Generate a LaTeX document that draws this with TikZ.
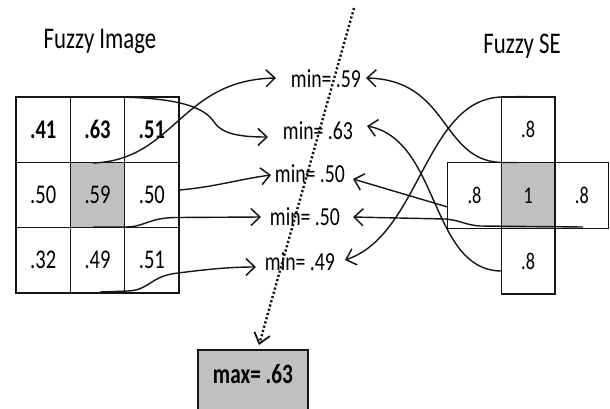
\documentclass[tikz,border=0pt]{standalone}
\usepackage{fontspec}
\setmainfont{Carlito}
\usetikzlibrary{arrows.meta}
\newcommand{\sq}[1]{\scalebox{0.76}[1]{#1}}
\definecolor{cellgray}{HTML}{C0C0C0}
\definecolor{ink}{HTML}{151515}
\begin{document}
\begin{tikzpicture}[x=1pt,y=-1pt,
  imgcell/.style={draw=ink, line width=1.5pt, fill=white, minimum width=54.33pt, minimum height=65.33pt, inner sep=0pt, font=\fontsize{27}{30}\selectfont},
  secell/.style={draw=ink, line width=1.5pt, fill=white, minimum width=53.7pt, minimum height=65.67pt, inner sep=0pt, font=\fontsize{24}{28}\selectfont},
  mid/.style={fill=cellgray},
  title/.style={anchor=base, font=\fontsize{30}{34}\selectfont},
  minlab/.style={anchor=base, inner sep=0pt, font=\fontsize{26}{30}\selectfont},
  conn/.style={draw=ink, line width=1.4pt, -{Straight Barb[length=9pt,width=17pt,line width=1.5pt]}},
  dotline/.style={draw=ink, line width=2.4pt, dash pattern=on 2.2pt off 2.2pt, -{Straight Barb[length=10pt,width=16pt,line width=1.8pt]}}
]
\useasboundingbox (0,0) rectangle (610,408);
\fill[white] (0,0) rectangle (610,408);

% titles
\node[title] (t1) at (100,48) {\sq{Fuzzy Image}};
\node[title] (t2) at (522,53) {\sq{Fuzzy SE}};

% fuzzy image grid
\node[imgcell] (a11) at (43.17,129.67) {\sq{\textbf{.41}}};
\node[imgcell] (a12) at (97.5,129.67) {\sq{\textbf{.63}}};
\node[imgcell] (a13) at (151.83,129.67) {\sq{\textbf{.51}}};
\node[imgcell] (a21) at (43.17,195) {\sq{.50}};
\node[imgcell,mid] (a22) at (97.5,195) {\sq{.59}};
\node[imgcell] (a23) at (151.83,195) {\sq{.50}};
\node[imgcell] (a31) at (43.17,260.33) {\sq{.32}};
\node[imgcell] (a32) at (97.5,260.33) {\sq{.49}};
\node[imgcell] (a33) at (151.83,260.33) {\sq{.51}};

% fuzzy SE cross
\node[secell] (s1) at (528.15,129.83) {\sq{.8}};
\node[secell] (s2) at (474.45,195.5) {\sq{.8}};
\node[secell,mid] (s3) at (528.15,195.5) {\sq{1}};
\node[secell] (s4) at (581.85,195.5) {\sq{.8}};
\node[secell] (s5) at (528.15,261.17) {\sq{.8}};

% min labels
\node[minlab] (m1) at (326,87) {\sq{min= .59}};
\node[minlab] (m2) at (318,139) {\sq{min= .63}};
\node[minlab] (m3) at (310,182) {\sq{min= .50}};
\node[minlab] (m4) at (305,225) {\sq{min= .50}};
\node[minlab] (m5) at (300,270) {\sq{min= .49}};

% max box
\node[draw=ink, line width=1.5pt, fill=cellgray, minimum width=110pt, minimum height=80pt, anchor=north] (maxbox) at (253,349) {};
\node[anchor=base, font=\fontsize{28}{32}\selectfont\bfseries] (maxlab) at (253,383) {\sq{max= .63}};

% connector end points
\coordinate (L1) at (276,78);
\coordinate (L2) at (268,137);
\coordinate (L3) at (271,175);
\coordinate (L4) at (261,217);
\coordinate (L5) at (256,267);
\coordinate (R1) at (366,78);
\coordinate (R2) at (367,126);
\coordinate (R3) at (353,179);
\coordinate (R4) at (353,217);
\coordinate (R5) at (345,260);
\coordinate (p1) at (93,163);
\coordinate (p2) at (110,97);
\coordinate (p3) at (179,190);
\coordinate (p4) at (93,227);
\coordinate (p5) at (100,292);
\coordinate (qa) at (517,162.5);
\coordinate (qb) at (501,271);
\coordinate (qc) at (527,96.5);
\coordinate (qd) at (447.6,207);
\coordinate (qe) at (583,227);
\coordinate (D0) at (354,8);
\coordinate (D1) at (259,345);

% left connectors
\path[conn] (p1) .. controls (175,160) and (180,80) .. (L1);
\path[conn] (p2) .. controls (180,97) and (205,108) .. (214,122) .. controls (222,134) and (240,137) .. (L2);
\path[conn] (p3) .. controls (215,187) and (240,179) .. (L3);
\path[conn] (p4) -- (125,227) .. controls (145,227) and (148,218) .. (175,217.5) -- (L4);
\path[conn] (p5) -- (128,291) .. controls (150,290) and (150,276) .. (178,273) .. controls (210,269) and (230,267) .. (L5);

% right connectors
\path[conn] (qa) -- (501,162.5) .. controls (440,160) and (450,80) .. (R1);
\path[conn] (qb) .. controls (430,270) and (440,140) .. (R2);
\path[conn] (qc) -- (501,97) .. controls (425,100) and (420,235) .. (R5);
\path[conn] (qd) -- (R3);
\path[conn] (qe) -- (480,226) .. controls (465,225) and (460,220) .. (445,219) -- (R4);

% dotted line
\path[dotline] (D0) -- (D1);
\end{tikzpicture}
\end{document}
